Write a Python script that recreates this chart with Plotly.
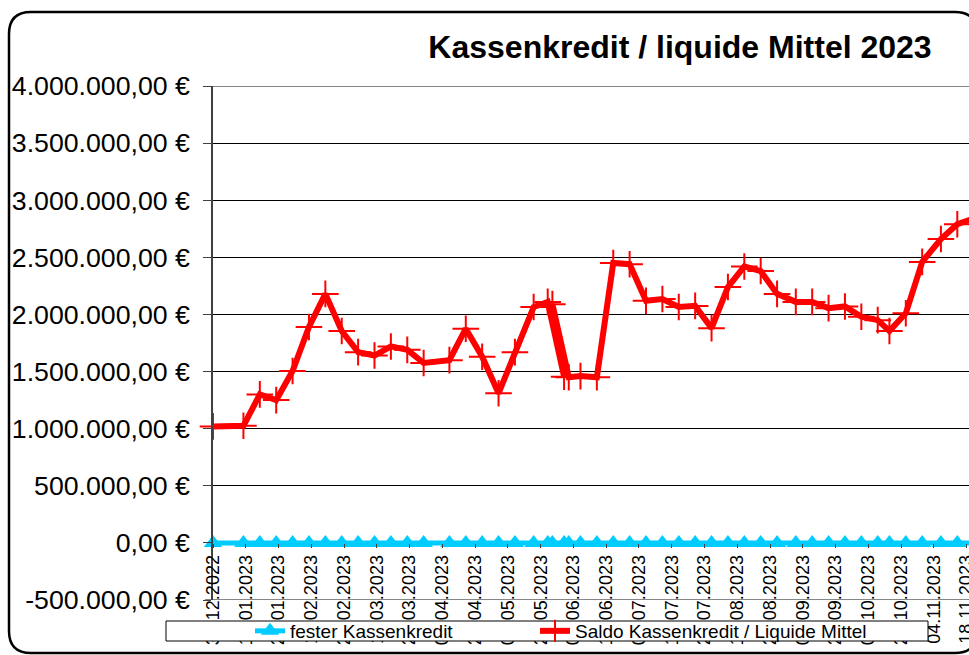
import plotly.graph_objects as go

# ---------------- data ----------------
dates = [
    "2022-12-31", "2023-01-13", "2023-01-20", "2023-01-27", "2023-02-03", "2023-02-10",
    "2023-02-17", "2023-02-24", "2023-03-03", "2023-03-10", "2023-03-17", "2023-03-24",
    "2023-03-31", "2023-04-11", "2023-04-18", "2023-04-25", "2023-05-02", "2023-05-09",
    "2023-05-17", "2023-05-23", "2023-05-30", "2023-05-25", "2023-06-01", "2023-06-06",
    "2023-06-13", "2023-06-20", "2023-06-27", "2023-07-04", "2023-07-11", "2023-07-18",
    "2023-07-25", "2023-08-01", "2023-08-08", "2023-08-15", "2023-08-22", "2023-08-29",
    "2023-09-06", "2023-09-13", "2023-09-20", "2023-09-27", "2023-10-04", "2023-10-11",
    "2023-10-16", "2023-10-23", "2023-10-30", "2023-11-07", "2023-11-14", "2023-11-21",
]
saldo = [
    1020000, 1025000, 1300000, 1250000, 1505000, 1890000,
    2180000, 1855000, 1670000, 1640000, 1720000, 1690000,
    1575000, 1600000, 1875000, 1630000, 1310000, 1670000,
    2065000, 2110000, 1455000, 2090000, 1450000, 1460000,
    1450000, 2450000, 2440000, 2120000, 2135000, 2065000,
    2075000, 1880000, 2240000, 2420000, 2380000, 2180000,
    2110000, 2110000, 2055000, 2070000, 1980000, 1950000,
    1855000, 2010000, 2460000, 2660000, 2790000, 2840000,
]
fester = [0] * len(dates)

series_names = ["fester Kassenkredit", "Saldo Kassenkredit / Liquide Mittel"]
title_text = "Kassenkredit / liquide Mittel 2023"

y_tickvals = [-500000, 0, 500000, 1000000, 1500000, 2000000, 2500000, 3000000, 3500000, 4000000]
y_ticktext = ["-500.000,00 €", "0,00 €", "500.000,00 €", "1.000.000,00 €", "1.500.000,00 €",
              "2.000.000,00 €", "2.500.000,00 €", "3.000.000,00 €", "3.500.000,00 €",
              "4.000.000,00 €"]

# ---------------- layout helpers ----------------
W, H = 969, 655
PL, PR, PT, PB = 213, 969, 86, 600


def fx(px):
    return (px - PL) / (PR - PL)


def fy(py):
    return (PB - py) / (PB - PT)


FONT = "Liberation Sans, Arial, sans-serif"

fig = go.Figure()
fig.add_trace(go.Scatter(
    x=dates, y=fester, name=series_names[0], mode="lines+markers",
    line=dict(color="#00CCFF", width=5),
    marker=dict(symbol="triangle-up", size=16, color="#00CCFF"),
    cliponaxis=False, legend="legend",
))
fig.add_trace(go.Scatter(
    x=dates, y=saldo, name=series_names[1], mode="lines+markers",
    line=dict(color="#FF0000", width=6),
    marker=dict(symbol="cross-thin", size=19, color="#FF0000",
                line=dict(color="#FF0000", width=2)),
    cliponaxis=False, legend="legend2",
))

# outer rounded border
L, T, R, B, r = 9, 12, 977, 653, 22
path = (f"M {fx(L + r)} {fy(T)} L {fx(R - r)} {fy(T)} Q {fx(R)} {fy(T)} {fx(R)} {fy(T + r)} "
        f"L {fx(R)} {fy(B - r)} Q {fx(R)} {fy(B)} {fx(R - r)} {fy(B)} "
        f"L {fx(L + r)} {fy(B)} Q {fx(L)} {fy(B)} {fx(L)} {fy(B - r)} "
        f"L {fx(L)} {fy(T + r)} Q {fx(L)} {fy(T)} {fx(L + r)} {fy(T)} Z")

shapes = [
    dict(type="path", path=path, xref="paper", yref="paper",
         line=dict(color="black", width=2.5), fillcolor="rgba(0,0,0,0)", layer="above"),
    # gray plot-area border lines (top/bottom)
    dict(type="line", xref="paper", yref="y", x0=fx(205), x1=1, y0=4000000, y1=4000000,
         line=dict(color="#868686", width=2), layer="below"),
    dict(type="line", xref="paper", yref="y", x0=fx(205), x1=1, y0=-500000, y1=-500000,
         line=dict(color="#868686", width=2), layer="below"),
    # legend box
    dict(type="rect", xref="paper", yref="paper", x0=fx(166), x1=fx(928), y0=fy(641), y1=fy(621),
         line=dict(color="black", width=1), fillcolor="white", layer="above"),
]

legend_common = dict(
    orientation="h", xanchor="left", yanchor="middle",
    bgcolor="rgba(0,0,0,0)", borderwidth=0,
    font=dict(family=FONT, size=19, color="black"),
)

fig.update_layout(
    width=W, height=H,
    margin=dict(l=PL, r=W - PR, t=PT, b=H - PB, autoexpand=False),
    paper_bgcolor="white", plot_bgcolor="white",
    font=dict(family=FONT, color="black"),
    title=dict(text=title_text, x=680 / W, xanchor="center", xref="container",
               y=1 - 47 / H, yanchor="middle", yref="container",
               font=dict(family=FONT, size=32, color="black", weight="bold")),
    xaxis=dict(
        type="date", range=["2022-12-31", "2023-11-19"],
        anchor="free", position=0.5 / 4.5,
        tick0="2022-12-31", dtick=14 * 86400000, tickformat="%d.%m.%Y",
        tickangle=-90, tickfont=dict(family=FONT, size=18, color="black"),
        ticklabeloverflow="allow",
        ticks="outside", ticklen=4, tickcolor="#404040",
        showgrid=False, showline=False, zeroline=False, automargin=False,
    ),
    yaxis=dict(
        range=[-500000, 4000000], tickvals=y_tickvals, ticktext=y_ticktext,
        tickfont=dict(family=FONT, size=26.7, color="black"),
        ticks="outside", ticklen=8, tickcolor="#404040", ticklabelstandoff=8,
        showline=True, linecolor="#404040", linewidth=1.5,
        showgrid=True, gridcolor="black", gridwidth=1, zeroline=False, automargin=False,
    ),
    showlegend=True,
    legend=dict(x=fx(250), y=fy(631), **legend_common),
    legend2=dict(x=fx(535), y=fy(631), **legend_common),
    shapes=shapes,
)

fig.write_html("out.html", config={"displayModeBar": False},
               post_script="document.body.style.margin='0';document.body.style.overflow='hidden';")
